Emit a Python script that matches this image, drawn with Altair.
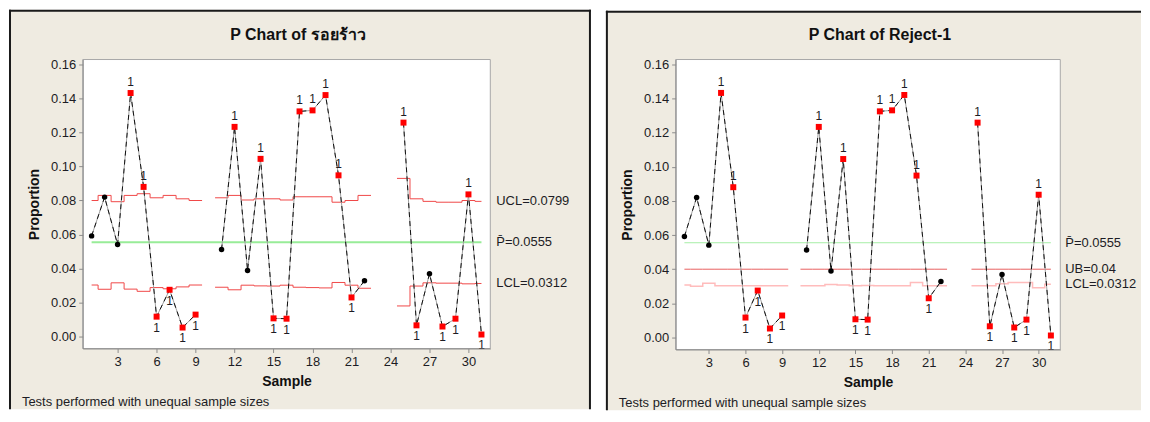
import altair as alt
import pandas as pd

# ---------------- data ----------------
samples = [1, 2, 3, 4, 5, 6, 7, 8, 9,
           11, 12, 13, 14, 15, 16, 17, 18, 19, 20, 21, 22,
           25, 26, 27, 28, 29, 30, 31]
proportion = [0.0592, 0.0820, 0.0541, 0.1432, 0.0880, 0.0117, 0.0275, 0.0053, 0.0129,
              0.0512, 0.1233, 0.0389, 0.1045, 0.0107, 0.0105, 0.1324, 0.1330, 0.1420, 0.0948, 0.0230, 0.0328,
              0.1258, 0.0066, 0.0369, 0.0059, 0.0105, 0.0836, 0.0012]
ucl_left = [0.0800, 0.0830, 0.0793, 0.0830, 0.0840, 0.0816, 0.0830, 0.0810, 0.0800,
            0.0816, 0.0830, 0.0803, 0.0810, 0.0810, 0.0803, 0.0822, 0.0822, 0.0822, 0.0790, 0.0800, 0.0830,
            0.0930, 0.0810, 0.0795, 0.0790, 0.0790, 0.0800, 0.0795]
lcl_left = [0.0303, 0.0278, 0.0316, 0.0279, 0.0266, 0.0288, 0.0281, 0.0292, 0.0303,
            0.0290, 0.0275, 0.0302, 0.0298, 0.0297, 0.0302, 0.0290, 0.0288, 0.0286, 0.0318, 0.0302, 0.0284,
            0.0180, 0.0297, 0.0316, 0.0314, 0.0314, 0.0310, 0.0312]
lcl_right = [0.0307, 0.0300, 0.0318, 0.0303, 0.0303, 0.0303, 0.0303, 0.0303, 0.0303,
             0.0303, 0.0303, 0.0310, 0.0308, 0.0303, 0.0305, 0.0303, 0.0303, 0.0303, 0.0322, 0.0303, 0.0303,
             0.0303, 0.0303, 0.0315, 0.0322, 0.0322, 0.0292, 0.0312]
center = 0.0555
ub = 0.04
limit_labels_left = [("UCL=0.0799", 0.0799), ("P\u0304=0.0555", 0.0555), ("LCL=0.0312", 0.0312)]
limit_labels_right = [("P\u0304=0.0555", 0.0555), ("UB=0.04", 0.0400), ("LCL=0.0312", 0.0312)]
x_ticks = [3, 6, 9, 12, 15, 18, 21, 24, 27, 30]
y_ticks = [0.00, 0.02, 0.04, 0.06, 0.08, 0.10, 0.12, 0.14, 0.16]
titles = ["P Chart of รอยร้าว", "P Chart of Reject-1"]
footer = "Tests performed with unequal sample sizes"

FONT = "Liberation Sans"
BEIGE = "#efebe1"
TEXT = "#1c1c24"

# segments (breaks where samples are missing)
seg_id = []
s_cur = 0
for i, s in enumerate(samples):
    if i > 0 and s - samples[i - 1] > 1:
        s_cur += 1
    seg_id.append(s_cur)

ooc = [(p > u) or (p < l) for p, u, l in zip(proportion, ucl_left, lcl_left)]
pts = pd.DataFrame({
    "x": samples, "y": proportion, "seg": seg_id,
    "ooc": ooc,
    "test": ["1" if o else "" for o in ooc],
    "above": [p > center for p in proportion],
})


def step_df(vals):
    rows = []
    lo, hi = samples[0], samples[-1]
    for i, (s, v) in enumerate(zip(samples, vals)):
        rows.append({"x": max(s - 0.5, lo), "y": v, "seg": seg_id[i], "o": 2 * i})
        rows.append({"x": min(s + 0.5, hi), "y": v, "seg": seg_id[i], "o": 2 * i + 1})
    return pd.DataFrame(rows)


def const_df(v):
    return step_df([v] * len(samples))


center_df = pd.DataFrame({"x": [samples[0], samples[-1]], "y": [center, center]})


def panel(title, w, h, xdom, ydom, box, title_xy, foot_xy, lab_x, limits, labels, green_w, green_c):
    xs = alt.Scale(domain=xdom, nice=False, zero=False)
    ys = alt.Scale(domain=ydom, nice=False, zero=False)
    X = alt.X("x:Q", scale=xs, title="Sample",
              axis=alt.Axis(values=x_ticks, format="d", grid=False, tickSize=4, labelPadding=3,
                            titlePadding=6, domainColor="#8c8c8c", tickColor="#8c8c8c",
                            labelFont=FONT, labelFontSize=13, labelColor=TEXT,
                            titleFont=FONT, titleFontSize=14, titleFontWeight="bold", titleColor="#111",
                            zindex=1))
    Y = alt.Y("y:Q", scale=ys, title="Proportion",
              axis=alt.Axis(values=y_ticks, format=".2f", grid=False, tickSize=4, labelPadding=3,
                            titlePadding=9, domainColor="#8c8c8c", tickColor="#8c8c8c",
                            labelFont=FONT, labelFontSize=13, labelColor=TEXT,
                            titleFont=FONT, titleFontSize=14, titleFontWeight="bold", titleColor="#111",
                            zindex=1))
    one = alt.Data(values=[{}])
    x0, x1, y0, y1 = box
    layers = []
    # panel background and border
    layers.append(alt.Chart(one).mark_rect(fill=BEIGE).encode(
        x=alt.value(x0), x2=alt.value(x1), y=alt.value(y0), y2=alt.value(y1)))
    layers.append(alt.Chart(one).mark_rule(color="#1a1a1a", strokeWidth=2).encode(
        x=alt.value(x0 + 1), y=alt.value(y0), y2=alt.value(y1)))
    layers.append(alt.Chart(one).mark_rule(color="#1a1a1a", strokeWidth=2).encode(
        x=alt.value(x0), x2=alt.value(x1), y=alt.value(y0 + 1)))
    # plot area
    layers.append(alt.Chart(one).mark_rect(fill="white", stroke="#a8a8a8", strokeWidth=1).encode(
        x=alt.value(0), x2=alt.value(w), y=alt.value(0), y2=alt.value(h)))
    # limit lines
    for df, col, sw in limits:
        layers.append(alt.Chart(df).mark_line(color=col, strokeWidth=sw).encode(
            x=X, y=Y, detail="seg:N", order="o:Q"))
    layers.append(alt.Chart(center_df).mark_line(color=green_c, strokeWidth=green_w).encode(x=X, y=Y))
    # connecting lines
    layers.append(alt.Chart(pts).mark_line(color="#a0a0a0", strokeWidth=1).encode(
        x=X, y=Y, detail="seg:N", order="x:Q"))
    layers.append(alt.Chart(pts).mark_line(color="#111111", strokeWidth=1, strokeDash=[5, 4]).encode(
        x=X, y=Y, detail="seg:N", order="x:Q"))
    # points
    layers.append(alt.Chart(pts).transform_filter("!datum.ooc").mark_point(
        shape="circle", filled=True, color="#000000", size=30, opacity=1).encode(x=X, y=Y))
    layers.append(alt.Chart(pts).transform_filter("datum.ooc").mark_point(
        shape="square", filled=True, color="#ff0000", size=36, opacity=1).encode(x=X, y=Y))
    # test labels
    layers.append(alt.Chart(pts).transform_filter("datum.ooc && datum.above").mark_text(
        font=FONT, fontSize=12, color=TEXT, dy=-11, baseline="middle").encode(x=X, y=Y, text="test:N"))
    layers.append(alt.Chart(pts).transform_filter("datum.ooc && !datum.above").mark_text(
        font=FONT, fontSize=12, color=TEXT, dy=11, baseline="middle").encode(x=X, y=Y, text="test:N"))
    # limit labels
    lab_df = pd.DataFrame({"t": [a for a, b in labels], "y": [b for a, b in labels]})
    layers.append(alt.Chart(lab_df).mark_text(
        font=FONT, fontSize=13, color=TEXT, align="left", baseline="middle").encode(
        x=alt.value(lab_x), y=Y, text="t:N"))
    # title and footer
    layers.append(alt.Chart(one).mark_text(
        text=title, font=FONT, fontSize=16, fontWeight="bold", color="#111", align="center",
        baseline="middle").encode(x=alt.value(title_xy[0]), y=alt.value(title_xy[1])))
    layers.append(alt.Chart(one).mark_text(
        text=footer, font=FONT, fontSize=13, color=TEXT, align="left",
        baseline="middle").encode(x=alt.value(foot_xy[0]), y=alt.value(foot_xy[1])))
    return alt.layer(*layers).properties(width=w, height=h)


left = panel(titles[0], 409, 290, [0.317, 31.68], [-0.00703, 0.1629],
             (-74, 510, -50, 351), (216, -25), (-61, 344), 415,
             [(step_df(ucl_left), "#f04848", 1), (step_df(lcl_left), "#f04848", 1)],
             limit_labels_left, 2, "#98ec98")
left = alt.layer(left, alt.Chart(alt.Data(values=[{}])).mark_rule(color="#1a1a1a", strokeWidth=2).encode(
    x=alt.value(509), y=alt.value(-50), y2=alt.value(351)))

right = panel(titles[1], 386, 291, [0.282, 31.77], [-0.0070, 0.16274],
              (-70, 467, -49, 352), (205, -25), (-57, 345), 391,
              [(const_df(ub), "#e86060", 1), (step_df(lcl_right), "#ffbcbc", 1.5)],
              limit_labels_right, 1, "#a6eea6")

chart = alt.hconcat(left, right, spacing=13).properties(padding=0, background="white").configure_view(
    stroke=None)

chart.save("out.html", embed_options={"renderer": "svg", "actions": False})
